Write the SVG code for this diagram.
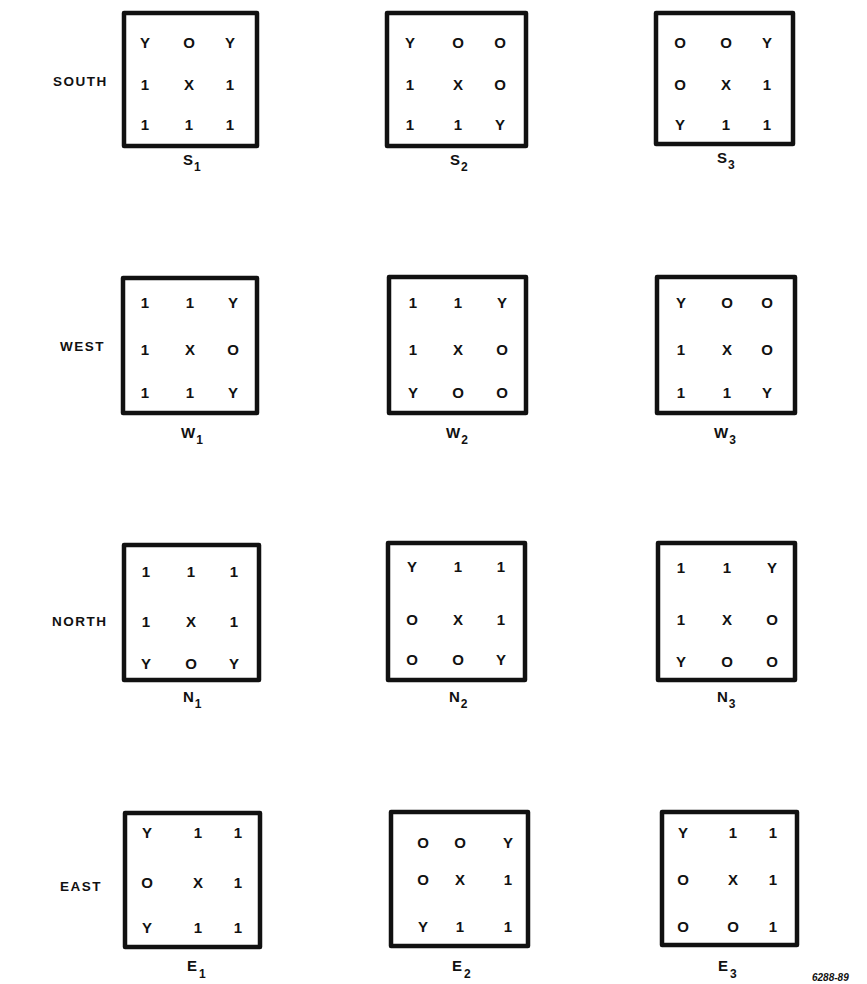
<svg xmlns="http://www.w3.org/2000/svg" width="867" height="984" viewBox="0 0 867 984">
<style>
.bg{fill:#ffffff}
.box{fill:none;stroke:#111;stroke-width:4.5;stroke-linejoin:round}
.c{font-family:"Liberation Sans",Arial,sans-serif;font-weight:bold;font-size:15px;fill:#111;text-anchor:middle}
.lab{font-family:"Liberation Sans",Arial,sans-serif;font-weight:bold;font-size:15px;fill:#111}
.sub{font-size:12px}
.row{font-family:"Liberation Sans",Arial,sans-serif;font-weight:bold;font-size:13.5px;letter-spacing:1.5px;fill:#111}
.num{font-family:"Liberation Sans",Arial,sans-serif;font-weight:bold;font-style:italic;font-size:10px;fill:#111}
</style>
<rect class="bg" x="0" y="0" width="867" height="984"/>

<g id="row-labels">
<text class="row" x="53" y="86">SOUTH</text>
<text class="row" x="60" y="351">WEST</text>
<text class="row" x="52" y="626">NORTH</text>
<text class="row" x="60" y="891">EAST</text>
</g>

<!-- SOUTH -->
<g id="S1">
<rect class="box" x="124" y="13" width="133" height="133"/>
<text class="c" x="145" y="48">Y</text><text class="c" x="189" y="48">O</text><text class="c" x="230" y="48">Y</text>
<text class="c" x="145" y="90">1</text><text class="c" x="189" y="90">X</text><text class="c" x="230" y="90">1</text>
<text class="c" x="145" y="130">1</text><text class="c" x="189" y="130">1</text><text class="c" x="230" y="130">1</text>
<text class="lab" x="183" y="165">S<tspan class="sub" dx="1" dy="6">1</tspan></text>
</g>
<g id="S2">
<rect class="box" x="387" y="13" width="139" height="133"/>
<text class="c" x="410" y="48">Y</text><text class="c" x="458" y="48">O</text><text class="c" x="500" y="48">O</text>
<text class="c" x="410" y="90">1</text><text class="c" x="458" y="90">X</text><text class="c" x="500" y="90">O</text>
<text class="c" x="410" y="130">1</text><text class="c" x="458" y="130">1</text><text class="c" x="500" y="130">Y</text>
<text class="lab" x="450" y="165">S<tspan class="sub" dx="1" dy="6">2</tspan></text>
</g>
<g id="S3">
<rect class="box" x="656" y="13" width="137" height="131"/>
<text class="c" x="680" y="48">O</text><text class="c" x="726" y="48">O</text><text class="c" x="767" y="48">Y</text>
<text class="c" x="680" y="90">O</text><text class="c" x="726" y="90">X</text><text class="c" x="767" y="90">1</text>
<text class="c" x="680" y="130">Y</text><text class="c" x="726" y="130">1</text><text class="c" x="767" y="130">1</text>
<text class="lab" x="717" y="163">S<tspan class="sub" dx="1" dy="6">3</tspan></text>
</g>

<!-- WEST -->
<g id="W1">
<rect class="box" x="123" y="278" width="134" height="135"/>
<text class="c" x="145" y="308">1</text><text class="c" x="190" y="308">1</text><text class="c" x="233" y="308">Y</text>
<text class="c" x="145" y="355">1</text><text class="c" x="190" y="355">X</text><text class="c" x="233" y="355">O</text>
<text class="c" x="145" y="398">1</text><text class="c" x="190" y="398">1</text><text class="c" x="233" y="398">Y</text>
<text class="lab" x="181" y="438">W<tspan class="sub" dx="1" dy="6">1</tspan></text>
</g>
<g id="W2">
<rect class="box" x="389" y="277" width="137" height="136"/>
<text class="c" x="413" y="308">1</text><text class="c" x="458" y="308">1</text><text class="c" x="502" y="308">Y</text>
<text class="c" x="413" y="355">1</text><text class="c" x="458" y="355">X</text><text class="c" x="502" y="355">O</text>
<text class="c" x="413" y="398">Y</text><text class="c" x="458" y="398">O</text><text class="c" x="502" y="398">O</text>
<text class="lab" x="446" y="438">W<tspan class="sub" dx="1" dy="6">2</tspan></text>
</g>
<g id="W3">
<rect class="box" x="657" y="277" width="138" height="136"/>
<text class="c" x="681" y="308">Y</text><text class="c" x="727" y="308">O</text><text class="c" x="767" y="308">O</text>
<text class="c" x="681" y="355">1</text><text class="c" x="727" y="355">X</text><text class="c" x="767" y="355">O</text>
<text class="c" x="681" y="398">1</text><text class="c" x="727" y="398">1</text><text class="c" x="767" y="398">Y</text>
<text class="lab" x="714" y="438">W<tspan class="sub" dx="1" dy="6">3</tspan></text>
</g>

<!-- NORTH -->
<g id="N1">
<rect class="box" x="124" y="545" width="135" height="135"/>
<text class="c" x="146" y="577">1</text><text class="c" x="191" y="577">1</text><text class="c" x="234" y="577">1</text>
<text class="c" x="146" y="627">1</text><text class="c" x="191" y="627">X</text><text class="c" x="234" y="627">1</text>
<text class="c" x="146" y="669">Y</text><text class="c" x="191" y="669">O</text><text class="c" x="234" y="669">Y</text>
<text class="lab" x="183" y="702">N<tspan class="sub" dx="1" dy="6">1</tspan></text>
</g>
<g id="N2">
<rect class="box" x="388" y="543" width="137" height="137"/>
<text class="c" x="412" y="572">Y</text><text class="c" x="458" y="572">1</text><text class="c" x="501" y="572">1</text>
<text class="c" x="412" y="625">O</text><text class="c" x="458" y="625">X</text><text class="c" x="501" y="625">1</text>
<text class="c" x="412" y="665">O</text><text class="c" x="458" y="665">O</text><text class="c" x="501" y="665">Y</text>
<text class="lab" x="449" y="702">N<tspan class="sub" dx="1" dy="6">2</tspan></text>
</g>
<g id="N3">
<rect class="box" x="658" y="543" width="137" height="137"/>
<text class="c" x="681" y="573">1</text><text class="c" x="727" y="573">1</text><text class="c" x="772" y="573">Y</text>
<text class="c" x="681" y="625">1</text><text class="c" x="727" y="625">X</text><text class="c" x="772" y="625">O</text>
<text class="c" x="681" y="667">Y</text><text class="c" x="727" y="667">O</text><text class="c" x="772" y="667">O</text>
<text class="lab" x="717" y="702">N<tspan class="sub" dx="1" dy="6">3</tspan></text>
</g>

<!-- EAST -->
<g id="E1">
<rect class="box" x="125" y="813" width="135" height="134"/>
<text class="c" x="147" y="838">Y</text><text class="c" x="198" y="838">1</text><text class="c" x="238" y="838">1</text>
<text class="c" x="147" y="888">O</text><text class="c" x="198" y="888">X</text><text class="c" x="238" y="888">1</text>
<text class="c" x="147" y="933">Y</text><text class="c" x="198" y="933">1</text><text class="c" x="238" y="933">1</text>
<text class="lab" x="187" y="971">E<tspan class="sub" dx="2" dy="7">1</tspan></text>
</g>
<g id="E2">
<rect class="box" x="391" y="812" width="137" height="134"/>
<text class="c" x="423" y="848">O</text><text class="c" x="460" y="848">O</text><text class="c" x="508" y="848">Y</text>
<text class="c" x="423" y="885">O</text><text class="c" x="460" y="885">X</text><text class="c" x="508" y="885">1</text>
<text class="c" x="423" y="932">Y</text><text class="c" x="460" y="932">1</text><text class="c" x="508" y="932">1</text>
<text class="lab" x="452" y="971">E<tspan class="sub" dx="2" dy="7">2</tspan></text>
</g>
<g id="E3">
<rect class="box" x="662" y="812" width="135" height="133"/>
<text class="c" x="683" y="838">Y</text><text class="c" x="733" y="838">1</text><text class="c" x="773" y="838">1</text>
<text class="c" x="683" y="885">O</text><text class="c" x="733" y="885">X</text><text class="c" x="773" y="885">1</text>
<text class="c" x="683" y="932">O</text><text class="c" x="733" y="932">O</text><text class="c" x="773" y="932">1</text>
<text class="lab" x="718" y="971">E<tspan class="sub" dx="2" dy="7">3</tspan></text>
</g>

<text class="num" x="812" y="981">6288-89</text>
</svg>
